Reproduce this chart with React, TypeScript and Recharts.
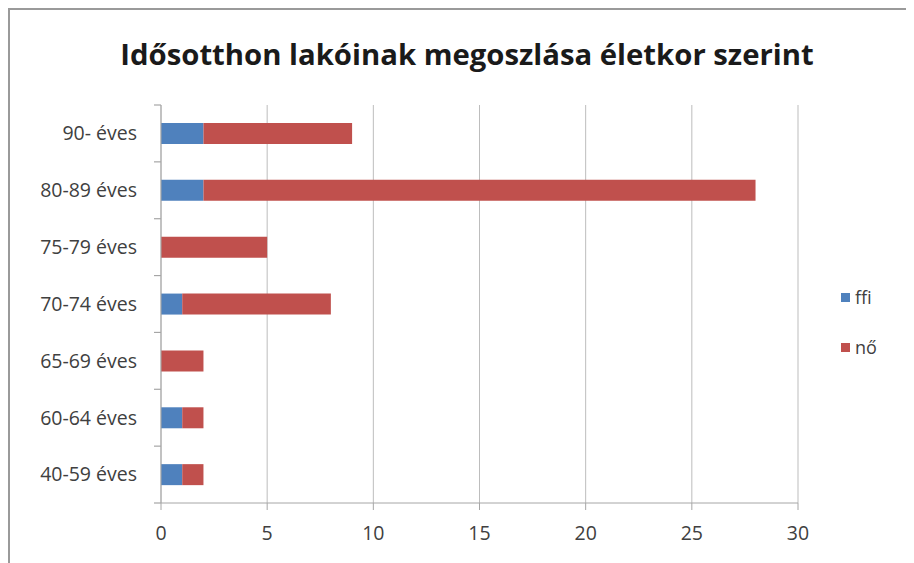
import React from "react";
import { Bar, BarChart, CartesianGrid, Legend, XAxis, YAxis } from "recharts";

const categories = ["90- éves", "80-89 éves", "75-79 éves", "70-74 éves", "65-69 éves", "60-64 éves", "40-59 éves"];
const ffiValues = [2, 2, 0, 1, 0, 1, 1];
const noValues = [7, 26, 5, 7, 2, 1, 1];
const xTicks = [0, 5, 10, 15, 20, 25, 30];

const data = categories.map((name, i) => ({ name, ffi: ffiValues[i], no: noValues[i] }));

const FONT = "'Open Sans', Lato, sans-serif";
const BLUE = "#4f81bd";
const RED = "#c0504d";
const AXIS = "#a6a6a6";

const CHART_H = 553;
const MARGIN = { top: 95, right: 116, bottom: 30, left: 0 };
const X_H = 30;
// height of one category band, used to put the y tick marks between categories
const BAND = (CHART_H - MARGIN.top - MARGIN.bottom - X_H) / categories.length;

const YTick = (props: any) => {
  const { x, y, payload, index } = props;
  const ax = x + 24;
  return (
    <g>
      <line x1={ax - 7} x2={ax} y1={y - BAND / 2} y2={y - BAND / 2} stroke={AXIS} strokeWidth={1.2} />
      {index === categories.length - 1 && (
        <line x1={ax - 7} x2={ax} y1={y + BAND / 2} y2={y + BAND / 2} stroke={AXIS} strokeWidth={1.2} />
      )}
      <text x={x} y={y} dy="0.35em" textAnchor="end" fontFamily={FONT} fontSize={19.5} fill="#404040">
        {payload.value}
      </text>
    </g>
  );
};

const LegendBox = () => (
  <div style={{ fontFamily: FONT, fontSize: 18, color: "#404040" }}>
    {[
      { label: "ffi", color: BLUE },
      { label: "nő", color: RED },
    ].map((it, i) => (
      <div key={it.label} style={{ display: "flex", alignItems: "center", height: 24, marginBottom: i === 0 ? 26 : 0 }}>
        <span style={{ width: 9, height: 9, background: it.color, marginRight: 5, display: "inline-block" }} />
        {it.label}
      </div>
    ))}
  </div>
);

export default function App() {
  return (
    <div
      style={{
        position: "relative",
        width: 906,
        height: 555,
        borderTop: "2px solid #9a9a9a",
        borderLeft: "2px solid #9a9a9a",
        boxSizing: "border-box",
        background: "#fff",
      }}
    >
      <div
        style={{
          position: "absolute",
          left: 0,
          width: 914,
          top: 24,
          textAlign: "center",
          fontFamily: FONT,
          fontWeight: 700,
          fontSize: 29.3,
          color: "#1a1a1a",
          pointerEvents: "none",
        }}
      >
        Idősotthon lakóinak megoszlása életkor szerint
      </div>
      <BarChart width={904} height={CHART_H} data={data} layout="vertical" barSize={21} margin={MARGIN}>
        <CartesianGrid horizontal={false} vertical stroke="#bdbdbd" />
        <XAxis
          type="number"
          domain={[0, 30]}
          ticks={xTicks}
          height={X_H}
          tickSize={7}
          tickMargin={16}
          stroke={AXIS}
          tick={{ fontFamily: FONT, fontSize: 19.5, fill: "#404040" }}
        />
        <YAxis
          type="category"
          dataKey="name"
          width={151}
          tickSize={7}
          tickMargin={17}
          tickLine={false}
          stroke={AXIS}
          tick={<YTick />}
        />
        <Legend
          layout="horizontal"
          verticalAlign="middle"
          content={<LegendBox />}
          wrapperStyle={{ left: 831, top: 275, width: 70 }}
        />
        <Bar dataKey="ffi" name="ffi" stackId="a" fill={BLUE} isAnimationActive={false} />
        <Bar dataKey="no" name="nő" stackId="a" fill={RED} isAnimationActive={false} />
      </BarChart>
    </div>
  );
}
